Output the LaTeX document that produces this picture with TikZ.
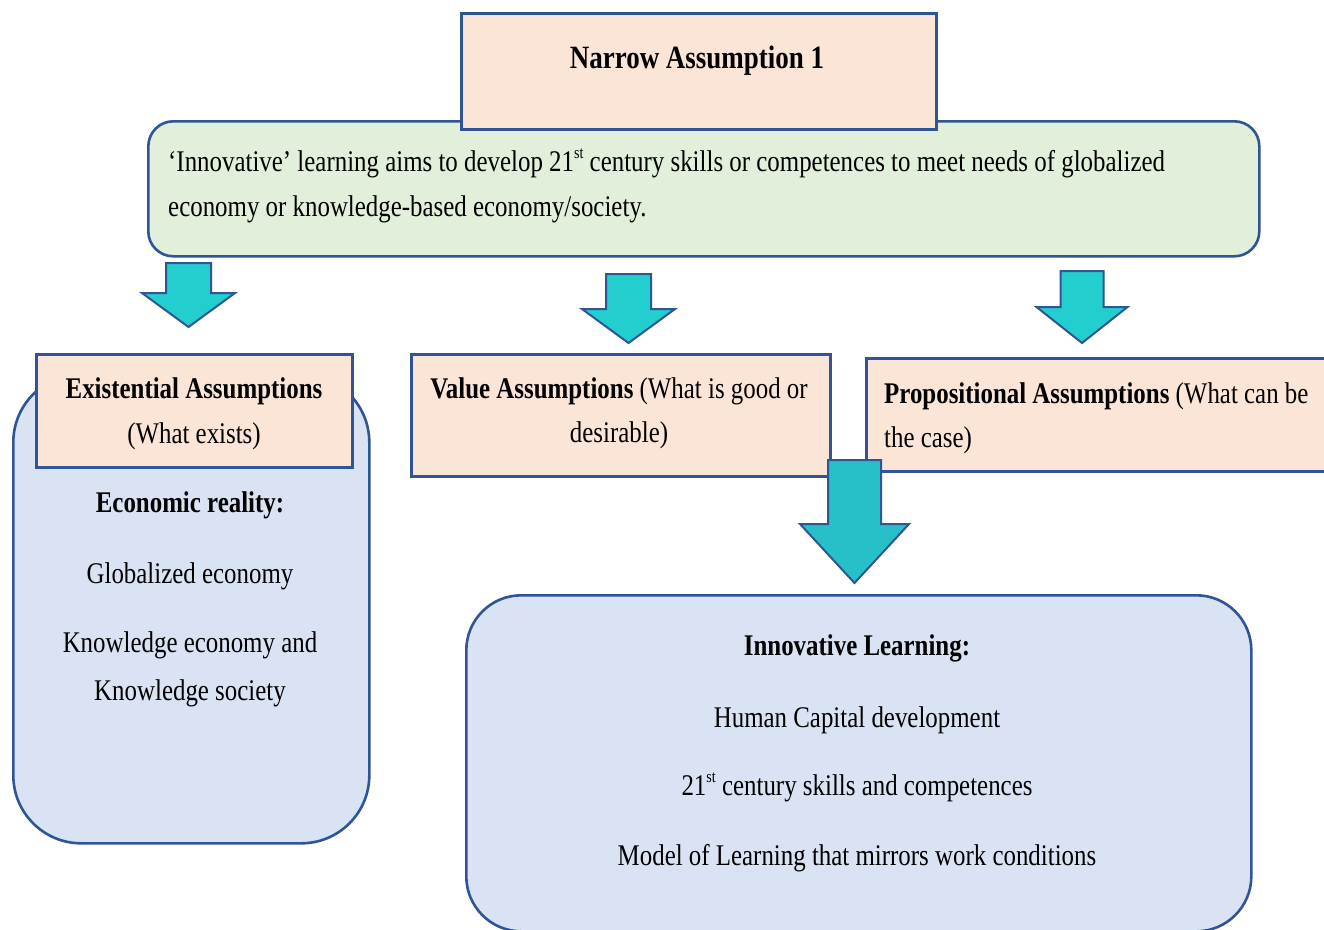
\documentclass[tikz,border=0pt]{standalone}
\usepackage{fontspec}
\setmainfont[FakeStretch=0.83]{Liberation Serif}
\definecolor{edge}{RGB}{47,85,151}
\definecolor{peach}{RGB}{251,229,214}
\definecolor{mint}{RGB}{226,239,218}
\definecolor{pale}{RGB}{218,227,243}
\definecolor{tealA}{RGB}{34,206,206}
\definecolor{tealB}{RGB}{40,192,200}

% small raised ordinal suffix
\newcommand{\ordsup}[1]{\raisebox{0.42em}{\fontsize{17}{17}\selectfont #1}}

% block arrow pointing down: colour, centre x, top y, shaft half width, head y, head half width, tip y
\newcommand{\blockdown}[7]{%
  \filldraw[fill=#1,draw=edge,line width=2pt,line join=miter]
    (#2-#4,#3) -- (#2+#4,#3) -- (#2+#4,#5) -- (#2+#6,#5) -- (#2,#7)
    -- (#2-#6,#5) -- (#2-#4,#5) -- cycle;}

\begin{document}
\begin{tikzpicture}[x=1pt,y=-1pt,
  panel/.style={draw=edge,line width=2.6pt,inner sep=0pt,anchor=north west},
  txt/.style={inner sep=0pt,anchor=base,font=\fontsize{30}{45}\selectfont},
  lefttxt/.style={txt,anchor=base west},
  head/.style={inner sep=0pt,anchor=base,font=\bfseries\fontsize{30}{45}\selectfont}]
\useasboundingbox[fill=white] (0,0) rectangle (1324,929);

% background panels
\node[panel,fill=pale,rounded corners=68pt,minimum width=356pt,minimum height=469pt] (reality) at (12,373) {};
\node[panel,fill=pale,rounded corners=55pt,minimum width=785pt,minimum height=336pt] (learning) at (465,594) {};
\node[panel,fill=mint,rounded corners=25pt,minimum width=1111pt,minimum height=135pt] (aimbox) at (147,120) {};
\node[panel,fill=peach,minimum width=475pt,minimum height=116pt] (narrow) at (460,12) {};

% assumption boxes
\node[panel,fill=peach,minimum width=316pt,minimum height=113pt] (exist) at (35,353) {};
\node[panel,fill=peach,minimum width=419pt,minimum height=122pt] (value) at (410,353) {};
\node[panel,fill=peach,minimum width=475pt,minimum height=113pt] (prop) at (865,357) {};

% arrows
\blockdown{tealA}{188.5}{263}{22.5}{293}{46.5}{327}
\blockdown{tealA}{628.5}{274}{22.5}{309}{46.5}{343}
\blockdown{tealA}{1082}{271}{21.5}{307}{45.5}{343}
\blockdown{tealB}{854.5}{460}{26.5}{524}{54.5}{583}

% texts
\node[head,font=\bfseries\fontsize{32.5}{40}\selectfont] (title) at (697,68) {Narrow Assumption 1};
\node[lefttxt] (aimA) at (168,171)
  {‘Innovative’ learning aims to develop 21\ordsup{st} century skills or competences to meet needs of globalized};
\node[lefttxt] (aimB) at (168,216) {economy or knowledge-based economy/society.};

\node[head] (existA) at (194,398) {Existential Assumptions};
\node[txt] (existB) at (194,443) {(What exists)};
\node[txt] (valueA) at (619,398) {\textbf{Value Assumptions} (What is good or};
\node[txt] (valueB) at (619,442) {desirable)};
\node[lefttxt] (propA) at (884,403) {\textbf{Propositional Assumptions} (What can be};
\node[lefttxt] (propB) at (884,447) {the case)};

\node[head] (econ) at (190,512) {Economic reality:};
\node[txt] (glob) at (190,583) {Globalized economy};
\node[txt] (knowA) at (190,652) {Knowledge economy and};
\node[txt] (knowB) at (190,700) {Knowledge society};

\node[head] (innov) at (857,655) {Innovative Learning:};
\node[txt] (human) at (857,727) {Human Capital development};
\node[txt] (skills) at (857,795) {21\ordsup{st} century skills and competences};
\node[txt] (model) at (857,865) {Model of Learning that mirrors work conditions};
\end{tikzpicture}
\end{document}
